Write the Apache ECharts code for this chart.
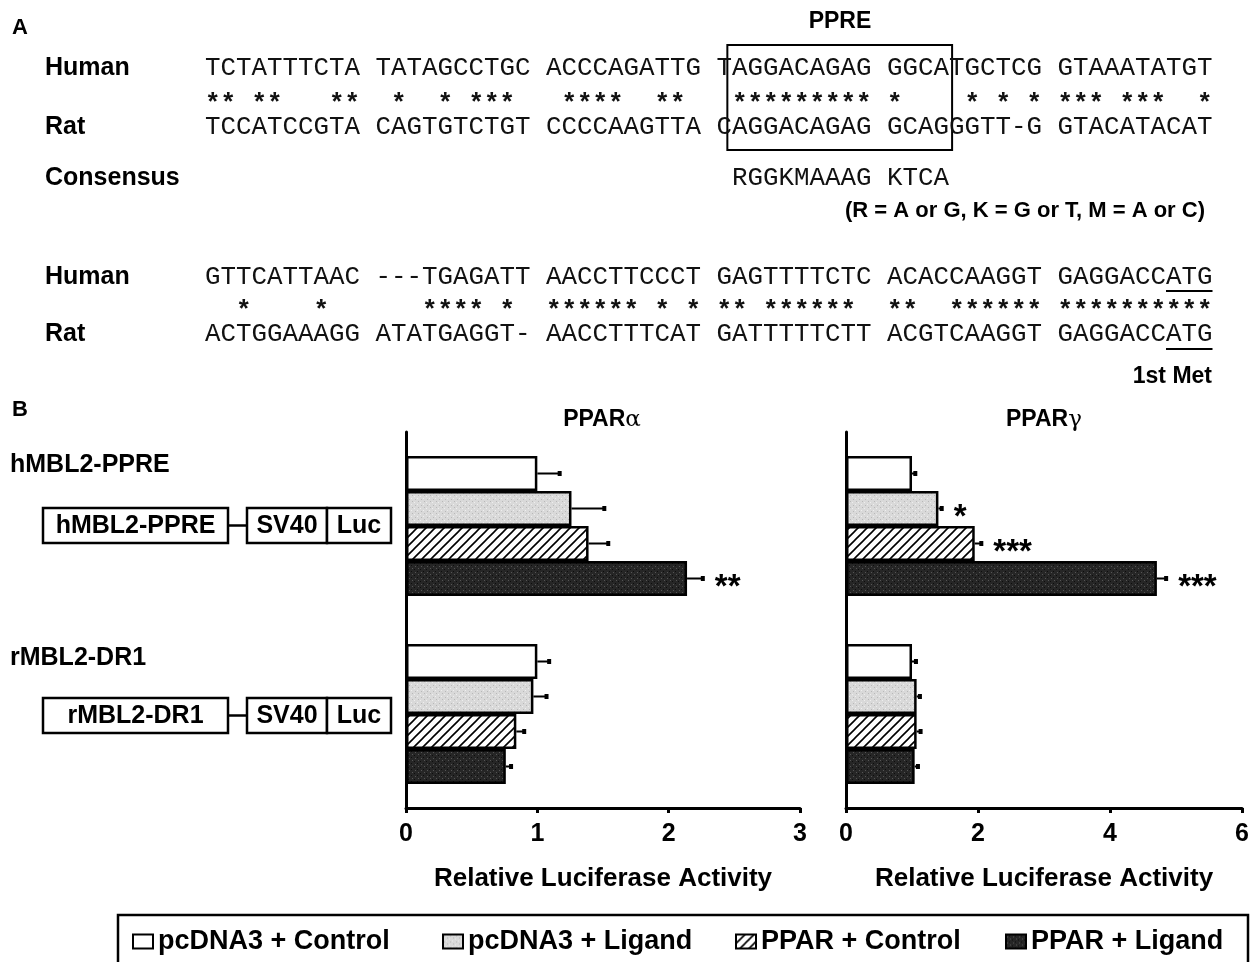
<!DOCTYPE html>
<html>
<head>
<meta charset="utf-8">
<script src="https://cdn.jsdelivr.net/npm/echarts@6/dist/echarts.min.js"></script>
<style>
  html, body { margin: 0; padding: 0; background: #fff; }
  #chart { width: 1252px; height: 962px; }
</style>
</head>
<body>
<div id="chart"></div>
<script>
// ---- panel A: alignment, in blocks of ten bases ----
const humanBlocks1 = ['TCTATTTCTA', 'TATAGCCTGC', 'ACCCAGATTG', 'TAGGACAGAG', 'GGCATGCTCG', 'GTAAATATGT'];
const matchBlocks1 = ['** **   **', ' *  * *** ', ' ****  ** ', ' *********', '*    * * *', '*** ***  *'];
const ratBlocks1   = ['TCCATCCGTA', 'CAGTGTCTGT', 'CCCCAAGTTA', 'CAGGACAGAG', 'GCAGGGTT-G', 'GTACATACAT'];
const consBlocks   = ['          ', '          ', '          ', ' RGGKMAAAG', 'KTCA      '];
const humanBlocks2 = ['GTTCATTAAC', '---TGAGATT', 'AACCTTCCCT', 'GAGTTTTCTC', 'ACACCAAGGT', 'GAGGACCATG'];
const matchBlocks2 = ['  *    *  ', '   **** * ', '****** * *', '** ****** ', '**  ******', '**********'];
const ratBlocks2   = ['ACTGGAAAGG', 'ATATGAGGT-', 'AACCTTTCAT', 'GATTTTTCTT', 'ACGTCAAGGT', 'GAGGACCATG'];

// ---- panel B: reporter assay ----
const constructs = ['hMBL2-PPRE', 'rMBL2-DR1'];
const treatments = ['pcDNA3 + Control', 'pcDNA3 + Ligand', 'PPAR + Control', 'PPAR + Ligand'];

// [hMBL2-PPRE, rMBL2-DR1] per treatment
const alphaMean = [[1.00, 1.00], [1.26, 0.97], [1.39, 0.84], [2.14, 0.76]];
const alphaErr  = [[0.17, 0.09], [0.25, 0.10], [0.15, 0.06], [0.12, 0.04]];
const alphaSig  = [['', ''], ['', ''], ['', ''], ['**', '']];

const gammaMean = [[1.00, 1.00], [1.40, 1.07], [1.95, 1.07], [4.71, 1.04]];
const gammaErr  = [[0.05, 0.06], [0.05, 0.05], [0.10, 0.06], [0.14, 0.05]];
const gammaSig  = [['', ''], ['*', ''], ['***', ''], ['***', '']];

const alphaTicks = [0, 3, 1];  // min, max, interval
const gammaTicks = [0, 6, 2];

const SANS = 'Liberation Sans, Arial, sans-serif';
const MONO = 'Liberation Mono, Courier New, monospace';
const BAR_W = 35;

// fill patterns
function makeTile(size, draw) {
  const c = document.createElement('canvas');
  c.width = c.height = size;
  draw(c.getContext('2d'), size);
  return { image: c, repeat: 'repeat' };
}
const hatchFill = makeTile(9, (g, s) => {
  g.fillStyle = '#fff'; g.fillRect(0, 0, s, s);
  g.strokeStyle = '#000'; g.lineWidth = 1.6;
  g.beginPath();
  g.moveTo(0, s); g.lineTo(s, 0);
  g.moveTo(-s / 2, s / 2); g.lineTo(s / 2, -s / 2);
  g.moveTo(s / 2, s * 1.5); g.lineTo(s * 1.5, s / 2);
  g.stroke();
});
const lightFill = makeTile(6, (g, s) => {
  g.fillStyle = '#d9d9d9'; g.fillRect(0, 0, s, s);
  g.fillStyle = '#b8b8b8'; g.fillRect(1, 1, 1, 1); g.fillRect(4, 3, 1, 1);
  g.fillStyle = '#eeeeee'; g.fillRect(3, 0, 1, 1); g.fillRect(0, 4, 1, 1);
});
const darkFill = makeTile(6, (g, s) => {
  g.fillStyle = '#262626'; g.fillRect(0, 0, s, s);
  g.fillStyle = '#555'; g.fillRect(1, 2, 1, 1); g.fillRect(4, 4, 1, 1);
  g.fillStyle = '#0d0d0d'; g.fillRect(3, 1, 1, 1); g.fillRect(0, 5, 1, 1);
});
const fills = ['#fff', lightFill, hatchFill, darkFill];

const chart = echarts.init(document.getElementById('chart'));

// ---- graphic for panel A and constructs ----
const charW = 15.5, seqX = 205;
const seqFont = charW / 0.6;

function txt(str, x, y, size, opts) {
  return {
    type: 'text', x: x, y: y, silent: true,
    style: Object.assign({
      text: str, fontFamily: SANS, fontWeight: 'bold', fontSize: size,
      fill: '#000', verticalAlign: 'middle', align: 'left'
    }, opts || {})
  };
}
function seq(blocks, y, bold) {
  return txt(blocks.join(' '), seqX, y, seqFont,
    { fontFamily: MONO, fontWeight: bold ? 'bold' : 'normal', fill: '#111' });
}
function box(x, y, w, h) {
  return { type: 'rect', silent: true, shape: { x: x, y: y, width: w, height: h },
    style: { fill: '#fff', stroke: '#000', lineWidth: 2.5 } };
}
function line(x1, y1, x2, y2, w) {
  return { type: 'line', silent: true, shape: { x1: x1, y1: y1, x2: x2, y2: y2 },
    style: { stroke: '#000', lineWidth: w || 2 } };
}
function construct(name, y) {
  return [
    box(43, y, 185, 35), line(228, y + 17.5, 247, y + 17.5, 2.5),
    box(247, y, 80, 35), box(327, y, 64, 35),
    txt(name, 135.5, y + 18, 25, { align: 'center' }),
    txt('SV40', 287, y + 18, 25, { align: 'center' }),
    txt('Luc', 359, y + 18, 25, { align: 'center' })
  ];
}
const titleRich = {
  a: { fontFamily: SANS, fontWeight: 'bold', fontSize: 23 },
  b: { fontFamily: 'DejaVu Serif, serif', fontSize: 23 }
};

const graphics = [
  txt('A', 12, 28, 22),
  txt('PPRE', 840, 22, 23, { align: 'center' }),
  { type: 'rect', silent: true,
    shape: { x: seqX + 33.7 * charW, y: 45, width: 14.5 * charW, height: 105 },
    style: { fill: 'none', stroke: '#000', lineWidth: 2 } },
  txt('Human', 45, 68, 25), seq(humanBlocks1, 68), seq(matchBlocks1, 104, true),
  txt('Rat', 45, 127, 25), seq(ratBlocks1, 127),
  txt('Consensus', 45, 178, 25), seq(consBlocks, 178),
  txt('(R = A or G, K = G or T, M = A or C)', 1205, 211, 22, { align: 'right' }),
  txt('Human', 45, 277, 25), seq(humanBlocks2, 277), seq(matchBlocks2, 311, true),
  txt('Rat', 45, 334, 25), seq(ratBlocks2, 334),
  line(seqX + 62 * charW, 291, seqX + 65 * charW, 291, 2),
  line(seqX + 62 * charW, 349, seqX + 65 * charW, 349, 2),
  txt('1st Met', 1212, 377, 23, { align: 'right' }),
  txt('B', 12, 410, 22),
  txt('hMBL2-PPRE', 10, 465, 25),
  txt('rMBL2-DR1', 10, 658, 25),
  ...construct('hMBL2-PPRE', 508),
  ...construct('rMBL2-DR1', 698),
  txt('{a|PPAR}{b|α}', 602, 420, 23, { align: 'center', rich: titleRich }),
  txt('{a|PPAR}{b|γ}', 1044, 420, 23, { align: 'center', rich: titleRich }),
  { type: 'rect', silent: true, shape: { x: 118, y: 915, width: 1130, height: 70 },
    style: { fill: 'none', stroke: '#000', lineWidth: 2.5 } }
];

// ---- bar panels ----
function xAxisFor(idx, ticks) {
  return {
    gridIndex: idx, type: 'value', min: ticks[0], max: ticks[1], interval: ticks[2],
    name: 'Relative Luciferase Activity', nameLocation: 'middle', nameGap: 58,
    nameTextStyle: { fontFamily: SANS, fontWeight: 'bold', fontSize: 26, color: '#000' },
    axisLine: { show: true, lineStyle: { color: '#000', width: 3 } },
    axisTick: { show: true, length: 5, lineStyle: { color: '#000', width: 3 } },
    axisLabel: { margin: 14, fontFamily: SANS, fontWeight: 'bold', fontSize: 25, color: '#000' },
    splitLine: { show: false }
  };
}
function yAxisFor(idx) {
  return {
    gridIndex: idx, type: 'category', data: constructs, inverse: true,
    axisLine: { show: true, lineStyle: { color: '#000', width: 3 } },
    axisTick: { show: false }, axisLabel: { show: false }
  };
}

function barSeries(idx, means) {
  return treatments.map((name, i) => ({
    type: 'bar', name: name, xAxisIndex: idx, yAxisIndex: idx,
    data: means[i], barWidth: BAR_W, barGap: '0%', silent: true,
    itemStyle: { color: fills[i], borderColor: '#000', borderWidth: 2.5 }
  }));
}

function errSeries(idx, means, errs, sigs) {
  const data = [], labels = [];
  means.forEach((row, k) => row.forEach((m, c) => {
    data.push([c, m, errs[k][c], k]);
    labels.push(sigs[k][c]);
  }));
  return {
    type: 'custom', xAxisIndex: idx, yAxisIndex: idx, silent: true, z: 5,
    data: data,
    renderItem: function (params, api) {
      const c = api.value(0), m = api.value(1), e = api.value(2), k = api.value(3);
      const p0 = api.coord([m, c]);
      const p1 = api.coord([m + e, c]);
      const y = p0[1] + (k - 1.5) * BAR_W;
      const children = [
        { type: 'line', shape: { x1: p0[0], y1: y, x2: p1[0], y2: y },
          style: { stroke: '#000', lineWidth: 2 } },
        { type: 'line', shape: { x1: p1[0], y1: y - 2.5, x2: p1[0], y2: y + 2.5 },
          style: { stroke: '#000', lineWidth: 4 } }
      ];
      const s = labels[params.dataIndex];
      if (s) {
        children.push({ type: 'text', x: p1[0] + 12, y: y + 9,
          style: { text: s, fontFamily: SANS, fontWeight: 'bold', fontSize: 33,
                   fill: '#000', verticalAlign: 'middle' } });
      }
      return { type: 'group', children: children };
    }
  };
}

const legendX = [127, 437, 730, 1000];

chart.setOption({
  backgroundColor: '#fff',
  animation: false,
  graphic: graphics,
  legend: treatments.map((name, i) => ({
    left: legendX[i], top: 923, itemWidth: 20, itemHeight: 14, itemGap: 0,
    icon: 'rect', selectedMode: false, data: [name],
    textStyle: { fontFamily: SANS, fontWeight: 'bold', fontSize: 27, color: '#000' }
  })),
  grid: [
    { left: 406, top: 432, width: 394, height: 376 },
    { left: 846, top: 432, width: 397, height: 376 }
  ],
  xAxis: [xAxisFor(0, alphaTicks), xAxisFor(1, gammaTicks)],
  yAxis: [yAxisFor(0), yAxisFor(1)],
  series: [
    ...barSeries(0, alphaMean),
    ...barSeries(1, gammaMean),
    errSeries(0, alphaMean, alphaErr, alphaSig),
    errSeries(1, gammaMean, gammaErr, gammaSig)
  ]
});
</script>
</body>
</html>
